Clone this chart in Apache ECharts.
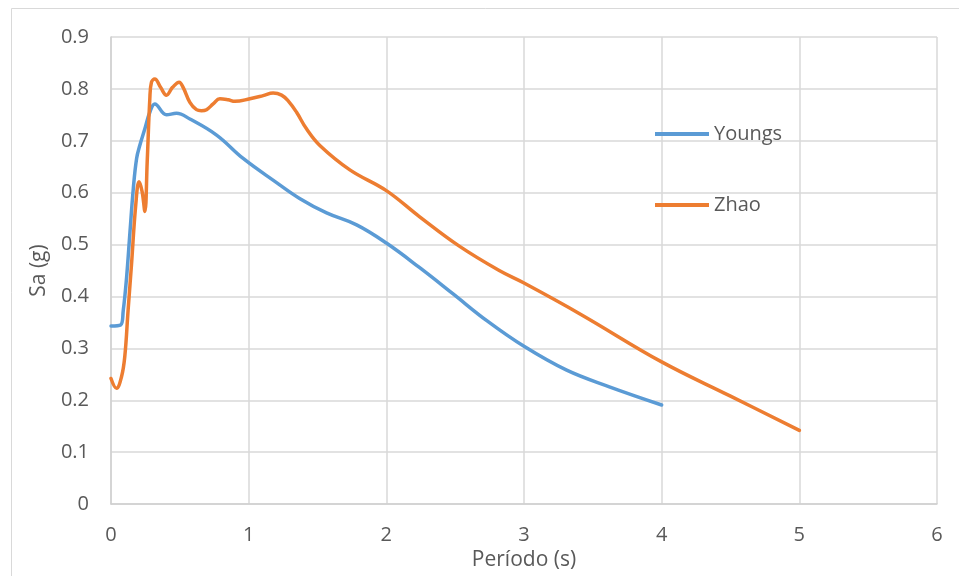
<!DOCTYPE html>
<html>
<head>
<meta charset="utf-8">
<script src="https://cdn.jsdelivr.net/npm/echarts@6/dist/echarts.min.js"></script>
<style>html,body{margin:0;padding:0;background:#fff}#c{width:959px;height:576px}</style>
</head>
<body>
<div id="c"></div>
<script>
const youngsT = [0, 0.07, 0.089, 0.113, 0.138, 0.162, 0.186, 0.209, 0.246, 0.282, 0.318, 0.403, 0.476, 0.573, 0.767, 0.96, 1.2, 1.37, 1.566, 1.784, 2.0, 2.24, 2.485, 2.727, 3.0, 3.31, 3.62, 4.0];
const youngsSa = [0.343, 0.345, 0.373, 0.436, 0.525, 0.608, 0.666, 0.691, 0.723, 0.755, 0.771, 0.750, 0.753, 0.742, 0.711, 0.666, 0.62, 0.589, 0.561, 0.538, 0.503, 0.456, 0.405, 0.354, 0.304, 0.258, 0.226, 0.191];
const zhaoT = [0, 0.04, 0.076, 0.1, 0.124, 0.149, 0.18, 0.204, 0.226, 0.246, 0.263, 0.282, 0.294, 0.318, 0.36, 0.403, 0.447, 0.495, 0.524, 0.573, 0.621, 0.657, 0.694, 0.742, 0.791, 0.851, 0.9, 1.009, 1.105, 1.178, 1.239, 1.287, 1.348, 1.42, 1.517, 1.735, 2.0, 2.24, 2.53, 2.82, 3.0, 3.41, 4.0, 4.5, 5.0];
const zhaoSa = [0.242, 0.223, 0.245, 0.284, 0.373, 0.462, 0.577, 0.621, 0.602, 0.564, 0.660, 0.781, 0.813, 0.819, 0.803, 0.788, 0.803, 0.813, 0.803, 0.774, 0.760, 0.758, 0.760, 0.771, 0.781, 0.779, 0.776, 0.781, 0.787, 0.792, 0.788, 0.777, 0.755, 0.723, 0.691, 0.644, 0.604, 0.554, 0.497, 0.450, 0.426, 0.366, 0.274, 0.208, 0.142];
const xTicks = [0, 1, 2, 3, 4, 5, 6];
const yTicks = [0, 0.1, 0.2, 0.3, 0.4, 0.5, 0.6, 0.7, 0.8, 0.9];

const pair = (xs, ys) => xs.map((x, i) => [x, ys[i]]);
const font = 'Open Sans';
const txt = '#595959';
const grid = '#D9D9D9';

const chart = echarts.init(document.getElementById('c'), null, {renderer: 'canvas'});
chart.setOption({
  animation: false,
  backgroundColor: '#fff',
  textStyle: {fontFamily: font},
  graphic: [{
    type: 'rect', silent: true, z: -1,
    shape: {x: 11.5, y: 8.5, width: 1000, height: 700},
    style: {fill: 'none', stroke: grid, lineWidth: 1}
  }],
  grid: {left: 111, right: 22, top: 37, bottom: 68},
  legend: {
    orient: 'vertical', left: 650, top: 116,
    itemWidth: 54, itemHeight: 4, itemGap: 45,
    icon: 'rect',
    textStyle: {color: txt, fontSize: 20, lineHeight: 26, fontFamily: font},
    data: ['Youngs', 'Zhao']
  },
  xAxis: {
    type: 'value', min: xTicks[0], max: xTicks[xTicks.length - 1], interval: 1,
    name: 'Período (s)', nameLocation: 'middle', nameGap: 45,
    nameTextStyle: {color: txt, fontSize: 21, fontFamily: font},
    axisLine: {show: true, lineStyle: {color: '#D0D0D0', width: 1.5}},
    axisTick: {show: false},
    axisLabel: {color: txt, fontSize: 20, margin: 21, fontFamily: font},
    splitLine: {show: true, lineStyle: {color: grid, width: 1.5}}
  },
  yAxis: {
    type: 'value', min: yTicks[0], max: yTicks[yTicks.length - 1], interval: 0.1,
    name: 'Sa (g)', nameLocation: 'middle', nameGap: 60, nameRotate: 90,
    nameTextStyle: {color: txt, fontSize: 21, fontFamily: font},
    axisLine: {show: true, lineStyle: {color: '#D0D0D0', width: 1.5}},
    axisTick: {show: false},
    axisLabel: {color: txt, fontSize: 20, margin: 22, fontFamily: font,
      formatter: v => String(Math.round(v * 10) / 10)},
    splitLine: {show: true, lineStyle: {color: grid, width: 1.5}}
  },
  series: [
    {name: 'Youngs', type: 'line', data: pair(youngsT, youngsSa), smooth: 0.4, showSymbol: false,
      lineStyle: {color: '#5B9BD5', width: 3.5, cap: 'round'}, itemStyle: {color: '#5B9BD5'}},
    {name: 'Zhao', type: 'line', data: pair(zhaoT, zhaoSa), smooth: 0.4, showSymbol: false,
      lineStyle: {color: '#ED7D31', width: 3.5, cap: 'round'}, itemStyle: {color: '#ED7D31'}}
  ]
});
</script>
</body>
</html>
